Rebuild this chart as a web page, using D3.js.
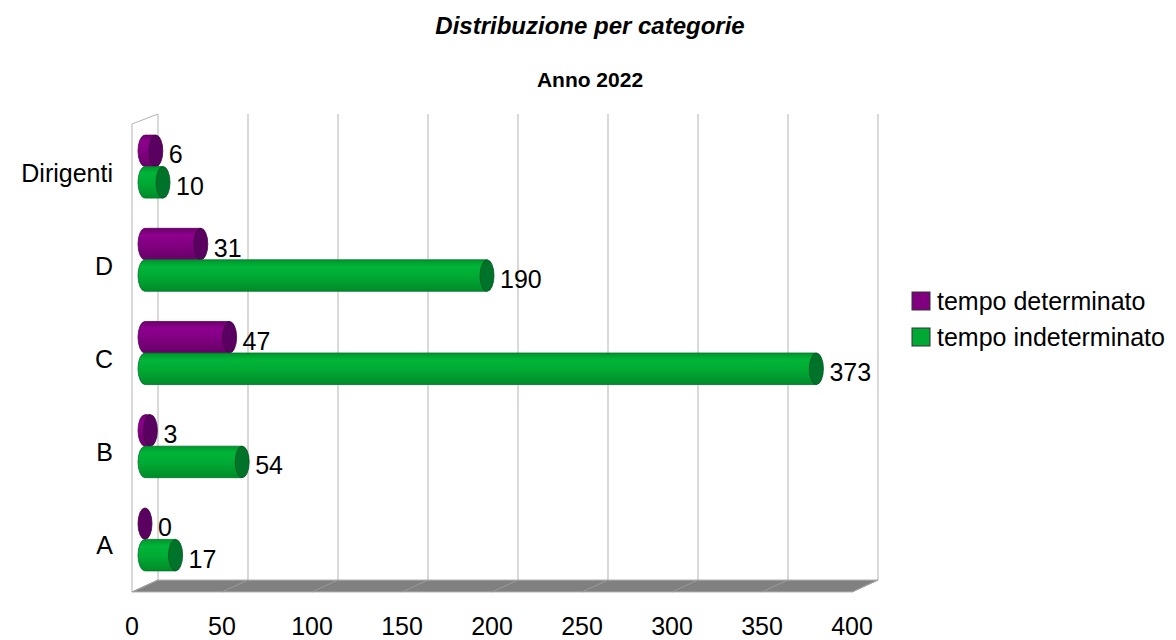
<!DOCTYPE html>
<html><head><meta charset="utf-8">
<script src="https://cdn.jsdelivr.net/npm/d3@7"></script>
<style>body{margin:0;background:#fff}svg{display:block;font-family:"Liberation Sans",Arial,sans-serif}</style>
</head><body>
<svg id="c" width="1176" height="640"></svg>
<script>
const title = "Distribuzione per categorie";
const subtitle = "Anno 2022";
const categories = ["Dirigenti", "D", "C", "B", "A"];
const seriesNames = ["tempo determinato", "tempo indeterminato"];
const determinato = [6, 31, 47, 3, 0];
const indeterminato = [10, 190, 373, 54, 17];
const xTicks = [0, 50, 100, 150, 200, 250, 300, 350, 400];
const seriesColors = ["#800080", "#00a933"];
const capColors = ["#5a0060", "#00732a"];

const svg = d3.select("#c");
const backLeft = 158, backRight = 878, backTop = 114, backBottom = 580;
const depthX = 26, depthY = 12;
const fs = 25;

const x = d3.scaleLinear().domain([0, 400]).range([backLeft, backRight]);
const yCat = d3.scaleBand().domain(categories).range([backTop, backBottom]).padding(0);
const ySer = d3.scaleBand().domain(seriesNames).range([0, yCat.bandwidth()]).paddingInner(0).paddingOuter(0.48);

// gradients
const defs = svg.append("defs");
const gradStops = [
  [["0%", "#6c006c"], ["22%", "#8e008e"], ["55%", "#800080"], ["100%", "#680068"]],
  [["0%", "#00962d"], ["22%", "#00b538"], ["55%", "#00a933"], ["100%", "#008c2a"]]
];
gradStops.forEach((st, i) => {
  const g = defs.append("linearGradient").attr("id", "g" + i).attr("x1", 0).attr("y1", 0).attr("x2", 0).attr("y2", 1);
  st.forEach(s => g.append("stop").attr("offset", s[0]).attr("stop-color", s[1]));
});

// left wall
svg.append("path")
  .attr("d", `M${backLeft - depthX},${backBottom + depthY} L${backLeft - depthX},${backTop + 10} L${backLeft},${backTop}`)
  .attr("fill", "none").attr("stroke", "#b3b3b3").attr("stroke-width", 1);

// gridlines on back wall
svg.append("g").selectAll("line").data(xTicks).join("line")
  .attr("x1", d => x(d)).attr("x2", d => x(d))
  .attr("y1", backTop).attr("y2", backBottom)
  .attr("stroke", "#b3b3b3").attr("stroke-width", 1);

// floor
svg.append("path")
  .attr("d", `M${backLeft - depthX},${backBottom + depthY} L${backRight - depthX},${backBottom + depthY} L${backRight},${backBottom} L${backLeft},${backBottom} Z`)
  .attr("fill", "#808080").attr("stroke", "#b3b3b3").attr("stroke-width", 1);
svg.append("g").selectAll("line").data(xTicks).join("line")
  .attr("x1", d => x(d)).attr("y1", backBottom)
  .attr("x2", d => x(d) - depthX).attr("y2", backBottom + depthY)
  .attr("stroke", "#9a9a9a").attr("stroke-width", 1);

// x tick labels
svg.append("g").selectAll("text").data(xTicks).join("text")
  .attr("x", d => x(d) - depthX).attr("y", 635)
  .attr("text-anchor", "middle").attr("font-size", fs).attr("fill", "#000")
  .text(d => d);

// category labels
svg.append("g").selectAll("text").data(categories).join("text")
  .attr("x", 113)
  .attr("y", d => yCat(d) + yCat.bandwidth() / 2 + depthY + 9)
  .attr("text-anchor", "end").attr("font-size", fs).attr("fill", "#000")
  .text(d => d);

// bars (cylinders at mid depth)
const midDX = depthX / 2, midDY = depthY / 2;
const rx = 7;
const bars = [];
categories.forEach((c, ci) => {
  [determinato, indeterminato].forEach((arr, si) => {
    bars.push({ cat: c, s: si, v: arr[ci] });
  });
});
const barG = svg.append("g");
bars.forEach(b => {
  const h = ySer.bandwidth();
  const ry = h / 2;
  const top = yCat(b.cat) + ySer(seriesNames[b.s]) + midDY;
  const cy = top + ry;
  const x0 = x(0) - midDX;
  const x1 = x(b.v) - midDX;
  const g = barG.append("g");
  if (b.v > 0) {
    g.append("path")
      .attr("d", `M${x0},${top} L${x1},${top} L${x1},${top + h} L${x0},${top + h} A${rx},${ry} 0 0 1 ${x0},${top} Z`)
      .attr("fill", `url(#g${b.s})`).attr("stroke", capColors[b.s]).attr("stroke-width", 0.8);
  }
  g.append("ellipse").attr("cx", x1).attr("cy", cy).attr("rx", rx).attr("ry", ry)
    .attr("fill", capColors[b.s]).attr("stroke", d3.color(capColors[b.s]).darker(0.8)).attr("stroke-width", 0.8);
  g.append("text").attr("x", x1 + 13).attr("y", cy + 12.5)
    .attr("font-size", fs).attr("fill", "#000").text(b.v);
});

// titles
svg.append("text").attr("x", 590).attr("y", 34).attr("text-anchor", "middle")
  .attr("font-size", 24).attr("font-weight", "bold").attr("font-style", "italic").text(title);
svg.append("text").attr("x", 590).attr("y", 87).attr("text-anchor", "middle")
  .attr("font-size", 21).attr("font-weight", "bold").text(subtitle);

// legend
const leg = svg.append("g").selectAll("g").data(seriesNames).join("g")
  .attr("transform", (d, i) => `translate(912, ${292 + i * 36})`);
leg.append("rect").attr("width", 18).attr("height", 18)
  .attr("fill", (d, i) => seriesColors[i]).attr("stroke", "#333").attr("stroke-width", 1);
leg.append("text").attr("x", 25).attr("y", 18).attr("font-size", fs).text(d => d);
</script>
</body></html>
